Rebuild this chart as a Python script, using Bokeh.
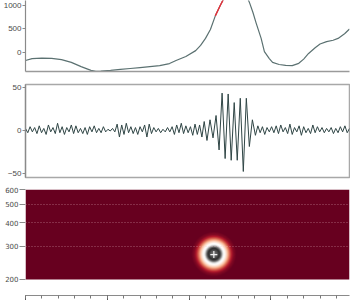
import numpy as np
from bokeh.plotting import figure
from bokeh.layouts import column
from bokeh.models import Range1d, FixedTicker, SingleIntervalTicker, LinearColorMapper
from bokeh.embed import file_html
from bokeh.resources import INLINE

# ---------------- data ----------------
time_range = (0, 198)

# panel 1: slow trace
t1 = [0, 4, 10, 16, 22, 28, 34, 40, 43, 46, 52, 58, 64, 70, 76, 82, 88, 92, 98, 104,
      107, 110, 113, 116, 119, 122, 126, 130, 134, 137, 139, 141, 144, 146, 149, 151,
      155, 159, 163, 167, 170, 173, 177, 180, 184, 188, 191, 195, 198]
v1 = [-170, -130, -120, -125, -150, -210, -300, -380, -400, -395, -380, -360, -340, -320,
      -300, -280, -235, -170, -85, 40, 150, 300, 490, 780, 1000, 1200, 1450, 1500, 1300,
      1050, 850, 620, 300, 20, -130, -210, -255, -275, -280, -230, -140, -20, 100, 180,
      230, 260, 300, 400, 500]
sel_start, sel_end = 115.5, 122
level_ticks = [0, 500, 1000]

# panel 2: oscillating trace (three segments)
seg1_start, seg1_step = 0.0, 1.4
seg1_vals = [2, -3, 4, -2, 3, -4, 5, -3, 2, -5,
             6, -2, 3, -4, 8, -3, 4, -5, 3, -2,
             6, -4, 5, -3, 2, -4, 3, -5, 4, -2,
             5, -3, 2, -3, 4, -2, 1, -1, 2, -2,
             7, -8, 6, -5, 8, -3, 4, -4, 3, -5,
             4, -2, 6, -8, 7, -4, 3, -2, 2, -3,
             1, -2, 3, -2, 4, -5, 6, -3, 8, -4,
             5, -3, 4, -6, 7, -5, 6, -8, 10]
seg2_start, seg2_step = 110.9, 1.85
seg2_vals = [-12, 12, -9, 17, -23, 43, -33, 42, -35, 32, -35, 37, -48, 37, -19, 12, -6]
seg3_start, seg3_step = 142.0, 1.4
seg3_vals = [5, -3, 4, -5, 3, -2, 4, -3, 5, -4,
             6, -2, 3, -4, 7, -5, 3, -2, 5, -6,
             4, -3, 2, -4, 6, -3, 4, -2, 3, -3,
             2, -2, 3, -4, 2, -3, 4, -2, 5, -3, 2]
amp_ticks = [-50, 0, 50]

# panel 3: power map (one peak, radial profile)
period_ticks = [200, 300, 400, 500, 600]
blob_time = 115.1
blob_period = 271
blob_extent_time = 13.8
blob_extent_logp = 0.12
blob_radius = [0, 0.14, 0.25, 0.34, 0.41, 0.5, 0.59, 0.68, 0.77, 0.86, 1.0]
blob_power = [0.82, 0.88, 0.97, 0.8, 0.55, 0.46, 0.35, 0.22, 0.11, 0.04, 0.0]

rdgy = ["#67001f", "#b2182b", "#d6604d", "#f4a582", "#fddbc7", "#ffffff",
        "#e0e0e0", "#bababa", "#878787", "#4d4d4d", "#1a1a1a"]

# ---------------- helpers ----------------
def interp_palette(cols, n):
    rgb = np.array([[int(c[i:i + 2], 16) for i in (1, 3, 5)] for c in cols], float)
    xs = np.linspace(0, 1, len(cols))
    xn = np.linspace(0, 1, n)
    out = []
    for x in xn:
        r, g, b = (np.interp(x, xs, rgb[:, k]) for k in range(3))
        out.append("#%02x%02x%02x" % (int(round(r)), int(round(g)), int(round(b))))
    return out

AX = "#8a8a8a"
LAB = "#4a4a4a"
FONT = "Liberation Sans"

def style_y(ax, ticks, size="8px", tick_out=3, standoff=1, font=FONT):
    ax.ticker = FixedTicker(ticks=ticks, minor_ticks=[])
    ax.major_label_text_font_size = size
    ax.major_label_text_font = font
    ax.major_label_text_color = LAB
    ax.major_label_standoff = standoff
    ax.major_tick_out = tick_out
    ax.major_tick_in = 0
    ax.minor_tick_out = 0
    ax.minor_tick_in = 0
    ax.axis_line_color = AX
    ax.major_tick_line_color = AX
    ax.axis_line_width = 1.2

xr = Range1d(*time_range)

# ---------------- panel 1 ----------------
p1 = figure(width=350, height=77, x_range=xr, y_range=Range1d(-404, 1106),
            output_backend="svg", toolbar_location=None, title=None,
            min_border_left=24, min_border_right=1, min_border_top=0, min_border_bottom=6)
p1.grid.visible = False
p1.outline_line_color = None
p1.line(t1, v1, line_color="#5b7171", line_width=1.2)
sel_t = [t for t in t1 if sel_start <= t <= sel_end]
sel_v = [v for t, v in zip(t1, v1) if sel_start <= t <= sel_end]
p1.line(sel_t, sel_v, line_color="#e8303a", line_width=1.4)
style_y(p1.yaxis[0], level_ticks)
xa = p1.xaxis[0]
xa.ticker = FixedTicker(ticks=[], minor_ticks=[])
xa.major_tick_out = 0
xa.major_tick_in = 0
xa.minor_tick_out = 0
xa.minor_tick_in = 0
xa.major_label_standoff = 0
xa.axis_line_color = "#9a9a9a"
xa.axis_line_width = 1.5

# ---------------- panel 2 ----------------
t2 = np.concatenate([seg1_start + np.arange(len(seg1_vals)) * seg1_step,
                     seg2_start + np.arange(len(seg2_vals)) * seg2_step,
                     seg3_start + np.arange(len(seg3_vals)) * seg3_step])
v2 = np.array(seg1_vals + seg2_vals + seg3_vals, float)

p2 = figure(width=350, height=106, x_range=xr, y_range=Range1d(-55, 53),
            output_backend="svg", toolbar_location=None, title=None,
            min_border_left=24, min_border_right=1, min_border_top=7, min_border_bottom=6)
p2.grid.visible = False
p2.outline_line_color = "#a8a8a8"
p2.outline_line_width = 1.5
p2.xaxis.visible = False
p2.line(t2, v2, line_color="#2f4545", line_width=1.0)
style_y(p2.yaxis[0], amp_ticks)

# ---------------- panel 3 ----------------
nx, ny = 326, 90
lp0, lp1 = np.log10(period_ticks[0]), np.log10(period_ticks[-1])
tt = np.linspace(time_range[0], time_range[1], nx)
lp = np.linspace(lp0, lp1, ny)
T, LP = np.meshgrid(tt, lp)
R = np.sqrt(((T - blob_time) / blob_extent_time) ** 2 +
            ((LP - np.log10(blob_period)) / blob_extent_logp) ** 2)
img = np.interp(R, blob_radius, blob_power, right=0.0)

mapper = LinearColorMapper(palette=interp_palette(rdgy, 256), low=0, high=1)

p3 = figure(width=350, height=129, x_range=xr, y_range=Range1d(164.5, 600),
            y_axis_type="log", output_backend="svg", toolbar_location=None, title=None,
            min_border_left=24, min_border_right=1, min_border_top=6, min_border_bottom=17)
p3.outline_line_color = None
p3.xgrid.visible = False
p3.image(image=[img], x=time_range[0], y=period_ticks[0],
         dw=time_range[1] - time_range[0], dh=period_ticks[-1] - period_ticks[0],
         color_mapper=mapper)
p3.scatter([blob_time], [blob_period], marker="cross", size=7,
           line_color="#f0f0f0", line_width=1.2)
p3.ygrid.ticker = FixedTicker(ticks=period_ticks[1:-1], minor_ticks=[])
p3.ygrid.grid_line_color = "#f0c8d0"
p3.ygrid.grid_line_alpha = 0.45
p3.ygrid.grid_line_dash = "1 2"
p3.ygrid.level = "overlay"
style_y(p3.yaxis[0], period_ticks, size="7px", tick_out=6, standoff=1, font="DejaVu Sans")
p3.yaxis[0].axis_line_color = None
bx = p3.xaxis[0]
bx.ticker = SingleIntervalTicker(interval=50, num_minor_ticks=5)
bx.major_tick_out = 5
bx.major_tick_in = 0
bx.minor_tick_out = 3
bx.minor_tick_in = 0
bx.major_label_text_font_size = "8px"
bx.major_label_text_font = FONT
bx.major_label_text_color = LAB
bx.major_label_standoff = 2
bx.axis_line_color = AX
bx.major_tick_line_color = "#555555"
bx.minor_tick_line_color = "#777777"

layout = column(p1, p2, p3, spacing=0)
open("out.html", "w").write(file_html(layout, INLINE))
